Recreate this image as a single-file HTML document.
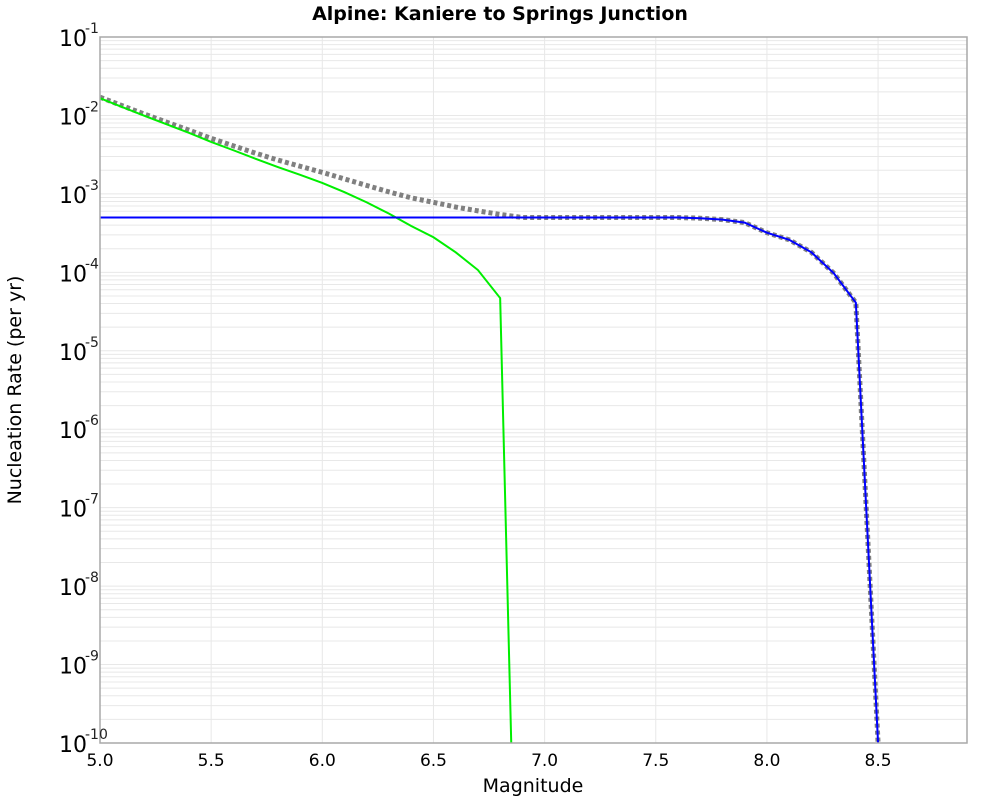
<!DOCTYPE html>
<html><head><meta charset="utf-8"><style>
html,body{margin:0;padding:0;background:#fff;overflow:hidden;width:1000px;height:800px;}
svg{display:block;}
svg text{font-family:"DejaVu Sans","Liberation Sans",sans-serif;}
</style></head><body>
<svg id="chart" width="1000" height="800" xmlns="http://www.w3.org/2000/svg">
<text x="500" y="20" text-anchor="middle" font-size="19" font-weight="bold">Alpine: Kaniere to Springs Junction</text>
<g id="grid"></g>
<g id="series"></g>
<rect x="100" y="37" width="867" height="706" fill="none" stroke="#a8a8a8" stroke-width="1.5"/>
<g id="ticks"></g>
<text x="533" y="792" text-anchor="middle" font-size="19">Magnitude</text>
<text transform="translate(21,390) rotate(-90)" text-anchor="middle" font-size="19">Nucleation Rate (per yr)</text>
</svg>
<script>
const xTicks=[5.0,5.5,6.0,6.5,7.0,7.5,8.0,8.5];
const yDecades=[-1,-2,-3,-4,-5,-6,-7,-8,-9,-10];
const greenMags=[5.0,5.1,5.2,5.3,5.4,5.5,5.6,5.7,5.8,5.9,6.0,6.1,6.2,6.3,6.4,6.5,6.6,6.7,6.8,6.9];
const greenVals=[0.0166,0.0128,0.0099,0.0077,0.0060,0.0046,0.0036,0.0028,0.0022,0.00175,0.00138,0.00105,0.00078,0.00056,0.00039,0.00028,0.00018,0.000107,0.000047,2e-16];
const blueMags=[5.0,5.5,6.0,6.5,7.0,7.5,7.6,7.7,7.8,7.9,8.0,8.1,8.2,8.3,8.4,8.5];
const blueVals=[5e-4,5e-4,5e-4,5e-4,5e-4,5e-4,5e-4,4.9e-4,4.7e-4,4.3e-4,3.2e-4,2.6e-4,1.8e-4,9.8e-5,4.1e-5,1e-10];
const X0=100,X1=967,Y0=37,Y1=743,MMIN=5.0,MMAX=8.9,LMAX=-1,LMIN=-10;
const sx=m=>X0+(m-MMIN)/(MMAX-MMIN)*(X1-X0);
const sy=v=>Y0+(LMAX-Math.log10(v))/(LMAX-LMIN)*(Y1-Y0);
const NS="http://www.w3.org/2000/svg";
function mk(t,a,p){const e=document.createElementNS(NS,t);for(const k in a)e.setAttribute(k,a[k]);p.appendChild(e);return e;}
const grid=document.getElementById('grid'),ticks=document.getElementById('ticks'),ser=document.getElementById('series');
for(let d=-10;d<-1;d++){for(let k=1;k<10;k++){const y=sy(k*Math.pow(10,d));const l=mk('line',{x1:X0,x2:X1,y1:y,y2:y,stroke:'#e8e8e8','stroke-width':1},grid);

}}
xTicks.forEach(m=>{const x=sx(m);const l=mk('line',{x1:x,x2:x,y1:Y0,y2:Y1,stroke:'#e8e8e8','stroke-width':1},grid);


const t=mk('text',{x:x,y:766,'text-anchor':'middle','font-size':17},ticks);t.textContent=m.toFixed(1);

});
yDecades.forEach(d=>{const y=sy(Math.pow(10,d));const t=mk('text',{x:87,y:y+9,'text-anchor':'end','font-size':22},ticks);t.textContent='10';


const e=mk('text',{x:85,y:y-4,'font-size':14,fill:'#222'},ticks);e.textContent=String(d);

});
const cp=mk('clipPath',{id:'clip'},ser);mk('rect',{x:X0,y:Y0,width:X1-X0,height:Y1-Y0},cp);
function interpLog(ms,vs,m){if(m<=ms[0])return vs[0];for(let i=1;i<ms.length;i++){if(m<=ms[i]+1e-9){const f=(m-ms[i-1])/(ms[i]-ms[i-1]);return Math.pow(10,Math.log10(vs[i-1])+f*(Math.log10(vs[i])-Math.log10(vs[i-1])));}}return 1e-30;}
const allM=[...new Set([...greenMags,...blueMags])].sort((a,b)=>a-b);
const totPts=allM.map(m=>sx(m)+','+sy(interpLog(greenMags,greenVals,m)+interpLog(blueMags,blueVals,m))).join(' ');
const tot=mk('polyline',{points:totPts,fill:'none',stroke:'#808080','stroke-width':5,'stroke-dasharray':'4,3','clip-path':'url(#clip)'},ser);


const g=mk('polyline',{points:greenMags.map((m,i)=>sx(m)+','+sy(greenVals[i])).join(' '),fill:'none',stroke:'#00ee00','stroke-width':2,'clip-path':'url(#clip)'},ser);


const b=mk('polyline',{points:blueMags.map((m,i)=>sx(m)+','+sy(blueVals[i])).join(' '),fill:'none',stroke:'#0000ff','stroke-width':2,'clip-path':'url(#clip)'},ser);


</script>
</body></html>
